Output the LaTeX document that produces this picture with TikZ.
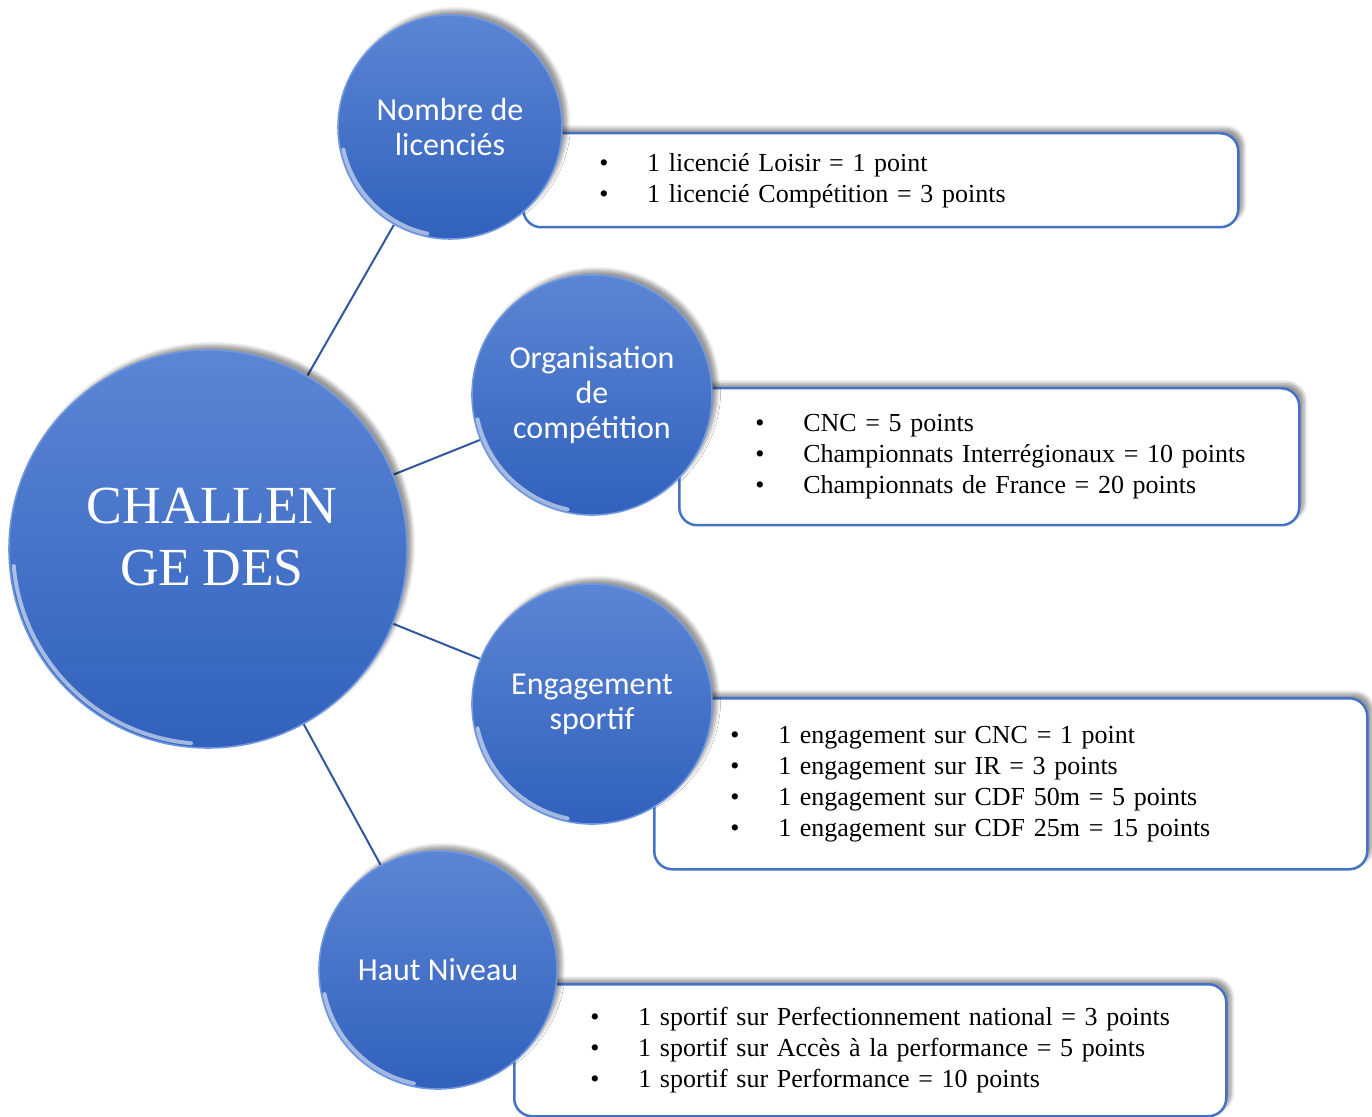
\documentclass[tikz,border=0pt]{standalone}
\usepackage{fontspec}
\setmainfont[WordSpace=0.8]{Liberation Serif}
\newfontfamily\calibri{Carlito}
\usetikzlibrary{positioning,shadows.blur,backgrounds}

\definecolor{circtop}{RGB}{92,134,212}
\definecolor{circbot}{RGB}{49,97,189}
\definecolor{circedge}{RGB}{112,152,224}
\definecolor{boxblue}{RGB}{68,114,196}
\definecolor{linkblue}{RGB}{50,88,155}

\newcommand{\bulletline}[1]{\hspace*{36pt}\makebox[24pt][l]{\textbullet}#1}

\tikzset{
  bubble/.style={circle, draw=circedge, line width=0.8pt,
    top color=circtop, bottom color=circbot,
    blur shadow={shadow xshift=2.5pt, shadow yshift=2.5pt, shadow blur steps=6},
    text=white, font=\calibri\fontsize{16}{17.5}\selectfont, align=center, inner sep=0pt},
  infobox/.style={draw=boxblue, line width=1.25pt, rounded corners=9pt, fill=white,
    blur shadow={shadow xshift=2.5pt, shadow yshift=2.5pt, shadow blur steps=6},
    anchor=north west, align=left, inner xsep=2pt, inner ysep=2pt,
    font=\fontsize{13}{15.5}\selectfont},
  link/.style={draw=linkblue, line width=1pt},
  rim/.style={white, line width=2pt, opacity=0.55, line cap=round}
}

\begin{document}
\begin{tikzpicture}[x=0.5pt, y=-0.5pt]
  \useasboundingbox (0,0) rectangle (1372,1117);

  % the bubbles
  \node[bubble, minimum size=199pt] (challenge) at (208,549) {};
  \node[text=white, font=\fontsize{26.8}{31}\selectfont, align=center] (title) at (212,537) {CHALLEN\\GE DES};
  \node[bubble, minimum size=112pt] (licencies) at (450,127) {Nombre de\\licenciés};
  \node[bubble, minimum size=120pt] (organisation) at (592,395) {Organisation\\de\\compétition};
  \node[bubble, minimum size=120pt] (engagement) at (592,704) {Engagement\\sportif};
  \node[bubble, minimum size=119pt] (hautniveau) at (438,970) {Haut Niveau};

  % light rims
  \draw[rim] ([shift={(185:97.5pt)}]challenge.center) arc (185:265:97.5pt);
  \draw[rim] ([shift={(192:54.5pt)}]licencies.center) arc (192:258:54.5pt);
  \draw[rim] ([shift={(192:58.5pt)}]organisation.center) arc (192:258:58.5pt);
  \draw[rim] ([shift={(192:58.5pt)}]engagement.center) arc (192:258:58.5pt);
  \draw[rim] ([shift={(192:58pt)}]hautniveau.center) arc (192:258:58pt);

  \begin{scope}[on background layer]
    % links
    \draw[link] (challenge) -- (licencies);
    \draw[link] (challenge) -- (organisation);
    \draw[link] (challenge) -- (engagement);
    \draw[link] (challenge) -- (hautniveau);

    % the boxes
    \node[infobox, text width=353.5pt, minimum height=47pt] (licbox) at (522,132)
      {\bulletline{1 licencié Loisir = 1 point}\\
       \bulletline{1 licencié Compétition = 3 points}};
    \node[infobox, text width=306pt, minimum height=68.5pt] (orgbox) at (678,387)
      {\bulletline{CNC = 5 points}\\
       \bulletline{Championnats Interrégionaux = 10 points}\\
       \bulletline{Championnats de France = 20 points}};
    \node[infobox, text width=352.5pt, minimum height=85.5pt] (engbox) at (653,697)
      {\bulletline{1 engagement sur CNC = 1 point}\\
       \bulletline{1 engagement sur IR = 3 points}\\
       \bulletline{1 engagement sur CDF 50m = 5 points}\\
       \bulletline{1 engagement sur CDF 25m = 15 points}};
    \node[infobox, text width=352pt, minimum height=66pt] (hnbox) at (513,983)
      {\bulletline{1 sportif sur Perfectionnement national = 3 points}\\
       \bulletline{1 sportif sur Accès à la performance = 5 points}\\
       \bulletline{1 sportif sur Performance = 10 points}};
  \end{scope}
\end{tikzpicture}
\end{document}
